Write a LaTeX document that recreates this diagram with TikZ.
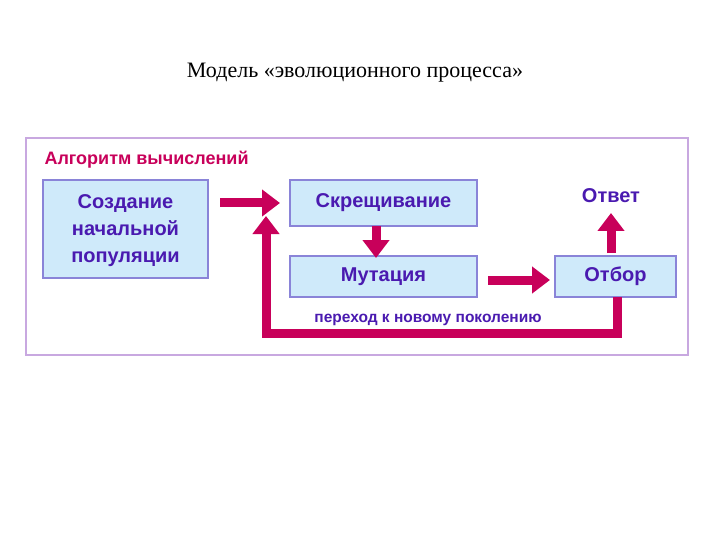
\documentclass[tikz,border=0pt]{standalone}
\usepackage{fontspec}
\setmainfont{Liberation Serif}
\newfontfamily\sansb{Liberation Sans}
\usetikzlibrary{arrows.meta}
\definecolor{mag}{HTML}{C8005A}
\definecolor{boxfill}{HTML}{CFEAFA}
\definecolor{boxdraw}{HTML}{8A84D8}
\definecolor{txt}{HTML}{4A1AB0}
\definecolor{frame}{HTML}{C8A8E0}
\begin{document}
\begin{tikzpicture}[x=1pt,y=-1pt,
  box/.style={draw=boxdraw,fill=boxfill,line width=1.2pt,inner sep=0},
  lbl/.style={font=\sansb\bfseries\fontsize{20}{27}\selectfont,text=txt,align=center},
  arr/.style={draw=mag,line width=9pt,-{Triangle[width=26pt,length=18pt]}}]
\useasboundingbox (0,0) rectangle (720,540);
\node (title) at (355,73) {\fontsize{22}{24}\selectfont Модель «эволюционного процесса»};
\draw[frame,line width=1.2pt] (26,138) rectangle (688,355);
\node[anchor=west,font=\sansb\bfseries\fontsize{18}{20}\selectfont,text=mag] (alg) at (41,160) {Алгоритм вычислений};
\node[box,minimum width=165pt,minimum height=98pt] (b1) at (125.5,229) {};
\node[lbl] at (125.5,231) {Создание\\начальной\\популяции};
\node[box,minimum width=187pt,minimum height=46pt] (b2) at (383.5,203) {};
\node[lbl] at (b2) {Скрещивание};
\node[box,minimum width=187pt,minimum height=41pt] (b3) at (383.5,276.5) {};
\node[lbl] at (b3) {Мутация};
\node[box,minimum width=121pt,minimum height=41pt] (b4) at (615.5,276.5) {};
\node[lbl] at (b4) {Отбор};
\node[lbl] (ans) at (611,196) {Ответ};
\node[font=\sansb\bfseries\fontsize{15.5}{18}\selectfont,text=txt] (gen) at (428,320) {переход к новому поколению};
\coordinate (a1) at (220,203);
\coordinate (a1e) at (280,203);
\draw[arr] (a1) -- (a1e);
\draw[arr] (376,226) -- (376,258);
\draw[arr] (488,280) -- (550,280);
\draw[arr] (611,253) -- (611,213);
\draw[draw=mag,line width=9pt,-{Triangle[width=26pt,length=18pt]}] (617,297) -- (617,333) -- (266,333) -- (266,216);
\end{tikzpicture}
\end{document}
